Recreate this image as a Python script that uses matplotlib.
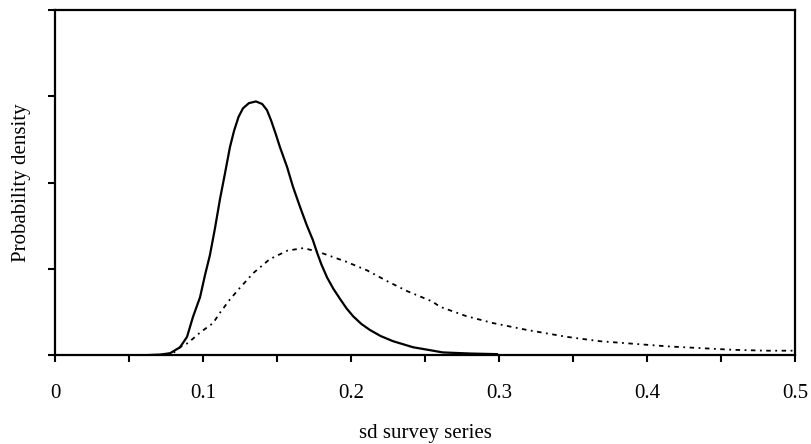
import matplotlib.pyplot as plt
from matplotlib.ticker import MultipleLocator, NullFormatter

# posterior density of the survey-series standard deviation (two runs)
sd_solid = [0.064, 0.071, 0.0777, 0.0845, 0.0892, 0.0932, 0.098, 0.1014, 0.1047,
            0.1081, 0.1115, 0.1149, 0.1182, 0.121, 0.124, 0.127, 0.131, 0.1358,
            0.140, 0.1432, 0.146, 0.149, 0.152, 0.1568, 0.1608, 0.1655, 0.170,
            0.1743, 0.177, 0.180, 0.1838, 0.188, 0.1926, 0.197, 0.2014, 0.207,
            0.2128, 0.220, 0.2284, 0.2419, 0.2554, 0.262, 0.2804, 0.2986]
dens_solid = [0.0, 0.005, 0.02, 0.09, 0.21, 0.44, 0.67, 0.93, 1.16,
              1.47, 1.81, 2.11, 2.41, 2.60, 2.76, 2.86, 2.92, 2.94,
              2.91, 2.84, 2.72, 2.57, 2.41, 2.18, 1.95, 1.72, 1.51,
              1.33, 1.19, 1.05, 0.90, 0.77, 0.65, 0.54, 0.45, 0.36,
              0.29, 0.22, 0.16, 0.09, 0.05, 0.03, 0.017, 0.01]

sd_dotted = [0.0743, 0.0797, 0.0845, 0.0899, 0.098, 0.1068, 0.1115, 0.118, 0.125,
             0.134, 0.145, 0.157, 0.168, 0.179, 0.197, 0.211, 0.224, 0.238,
             0.255, 0.260, 0.278, 0.296, 0.319, 0.346, 0.368, 0.391, 0.414,
             0.436, 0.458, 0.481, 0.5]
dens_dotted = [0.01, 0.02, 0.09, 0.14, 0.26, 0.37, 0.49, 0.64, 0.78,
               0.95, 1.11, 1.21, 1.24, 1.19, 1.08, 0.98, 0.86, 0.74,
               0.62, 0.56, 0.45, 0.37, 0.29, 0.21, 0.16, 0.13, 0.10,
               0.08, 0.06, 0.05, 0.05]

x_ticks = [0, 0.1, 0.2, 0.3, 0.4, 0.5]
x_ticklabels = ["0", "0.1", "0.2", "0.3", "0.4", "0.5"]

plt.rcParams['font.family'] = ['Liberation Serif', 'DejaVu Serif']

fig = plt.figure(figsize=(8.11, 4.44), dpi=100)
ax = fig.add_axes([55 / 811, 1 - 355 / 444, 740 / 811, 345 / 444])

ax.plot(sd_solid, dens_solid, color='black', linewidth=1.6)
ax.plot(sd_dotted, dens_dotted, color='black', linewidth=1.3,
        linestyle=(0, (2.5, 2.5, 1, 2.5)))

ax.set_xlim(0, 0.5)
ax.set_ylim(0, 4)
ax.set_xticks(x_ticks)
ax.set_xticklabels(x_ticklabels)
ax.xaxis.set_minor_locator(MultipleLocator(0.05))
ax.set_yticks([0, 1, 2, 3, 4])
ax.yaxis.set_major_formatter(NullFormatter())

for s in ax.spines.values():
    s.set_linewidth(1.6)
ax.tick_params(axis='both', which='both', direction='out', length=5, width=1.5,
               labelsize=15)
ax.tick_params(axis='x', which='major', pad=16)

ax.set_xlabel("sd survey series", fontsize=15, labelpad=15)
ax.set_ylabel("Probability density", fontsize=15, labelpad=9)

fig.savefig("out.png", dpi=100)
plt.close(fig)
